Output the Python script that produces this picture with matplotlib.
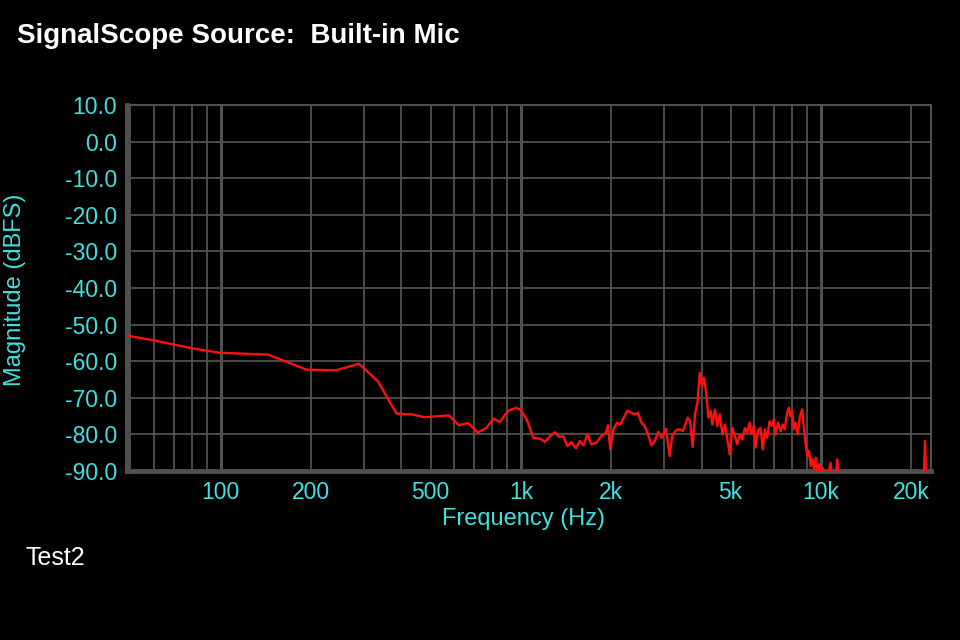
import matplotlib
matplotlib.use("Agg")
import matplotlib.pyplot as plt
from matplotlib.ticker import FixedLocator, NullFormatter

plt.rcParams['font.family'] = ['Liberation Sans', 'DejaVu Sans']
plt.rcParams['axes.unicode_minus'] = False

# spectrum (Hz, dBFS); values under -90 are hidden by the axis
freq = [48.7, 60.6, 70.3, 80.6, 99.2, 143.8, 193, 242, 289, 334, 385, 432, 478, 576,
        621, 668, 718, 768, 811, 851, 906, 962, 998, 1046, 1100, 1158, 1203, 1250,
        1298, 1341, 1383, 1431, 1475, 1526, 1570, 1617, 1669, 1714, 1782, 1852, 1918,
        1950, 1986, 2037, 2090, 2145, 2203, 2266, 2336, 2396, 2457, 2521, 2586, 2653,
        2724, 2796, 2868, 2944, 3042, 3133, 3198, 3296, 3378, 3467, 3597, 3663, 3737,
        3808, 3876, 3947, 4009, 4077, 4150, 4215, 4290, 4344, 4434, 4515, 4600, 4694,
        4790, 4876, 4966, 5066, 5170, 5262, 5370, 5466, 5577, 5677, 5781, 5869, 5975,
        6052, 6160, 6287, 6400, 6498, 6615, 6739, 6842, 6963, 7052, 7197, 7330, 7460,
        7576, 7710, 7812, 7914, 8017, 8120, 8227, 8375, 8507, 8661, 8776, 8891, 9007,
        9125, 9245, 9364, 9484, 9609, 9735, 9862, 9990, 10136, 10300, 10500, 10767,
        10950, 11150, 11335, 11550, 16000, 21900, 22220, 22500, 23300]
mag = [-53.0, -54.4, -55.5, -56.5, -57.7, -58.2, -62.3, -62.5, -60.7, -65.5, -74.3,
       -74.5, -75.3, -74.8, -77.5, -76.9, -79.5, -78.2, -75.7, -76.6, -73.6, -72.7,
       -73.3, -75.9, -80.9, -81.2, -82.0, -80.5, -79.4, -80.7, -80.5, -83.2, -82.1,
       -83.8, -81.8, -83.0, -79.8, -82.7, -82.3, -80.5, -79.6, -77.5, -84.1, -78.6,
       -76.8, -77.3, -75.4, -73.5, -74.1, -74.5, -74.1, -76.8, -77.7, -80.0, -83.0,
       -81.8, -79.3, -80.9, -78.5, -85.9, -80.1, -78.8, -78.6, -79.1, -75.4, -76.4,
       -83.4, -74.1, -71.4, -63.2, -66.8, -64.5, -69.1, -75.4, -73.6, -77.3, -73.2,
       -77.7, -74.5, -80.0, -77.3, -81.4, -85.4, -78.2, -80.5, -82.7, -80.0, -81.4,
       -78.2, -79.5, -76.8, -80.0, -77.7, -83.6, -79.1, -78.2, -84.1, -78.6, -80.9,
       -76.4, -77.7, -75.9, -80.0, -76.8, -79.1, -77.3, -78.6, -74.1, -72.7, -75.0,
       -73.6, -78.6, -76.8, -80.0, -75.0, -73.2, -78.6, -82.7, -85.9, -84.5, -88.6,
       -86.8, -89.5, -86.4, -90.5, -88.2, -92.0, -89.1, -93.0, -92.0, -87.8, -94.0,
       -93.0, -86.8, -96.0, -96.0, -96.0, -81.8, -96.0, -96.0]

xticks = [100, 200, 500, 1000, 2000, 5000, 10000, 20000]
xtick_labels = ['100', '200', '500', '1k', '2k', '5k', '10k', '20k']
yticks = [10, 0, -10, -20, -30, -40, -50, -60, -70, -80, -90]
decades = [100, 1000, 10000]
minor_grid = [50, 60, 70, 80, 90, 200, 300, 400, 500, 600, 700, 800, 900,
              2000, 3000, 4000, 5000, 6000, 7000, 8000, 9000, 20000]

cyan = '#3fe0e0'
grey = '#505050'

fig = plt.figure(figsize=(9.6, 6.4), dpi=100, facecolor='black')
ax = fig.add_axes([127/960, 1 - 471/640, (931 - 127)/960, (471 - 105)/640])
ax.set_facecolor('black')

ax.plot(freq, mag, color='#ff1010', lw=1.7, zorder=3)

ax.set_xscale('log')
ax.set_xlim(48.7, 23260)
ax.set_ylim(-90, 10)

# grid drawn by hand so decade lines can be heavier
for f in minor_grid:
    ax.axvline(f, color=grey, lw=1.3, zorder=1)
for f in decades:
    ax.axvline(f, color=grey, lw=2.2, zorder=1)
for y in yticks:
    ax.axhline(y, color=grey, lw=1.3, zorder=1)

ax.xaxis.set_major_locator(FixedLocator(xticks))
ax.xaxis.set_minor_locator(FixedLocator([]))
ax.xaxis.set_minor_formatter(NullFormatter())
ax.set_xticklabels(xtick_labels)
ax.set_yticks(yticks)
ax.set_yticklabels(['%.1f' % v for v in yticks])
ax.tick_params(axis='both', length=0, colors=cyan, labelsize=16.5)
ax.tick_params(axis='x', pad=7)
ax.tick_params(axis='y', pad=7)

for side in ['left', 'bottom']:
    ax.spines[side].set_color(grey)
    ax.spines[side].set_linewidth(3.5)
for side in ['top', 'right']:
    ax.spines[side].set_color(grey)
    ax.spines[side].set_linewidth(1.5)

fig.text(17/960, 1 - 36/640, 'SignalScope Source:  Built-in Mic', color='white',
         fontsize=20, fontweight='bold', ha='left', va='center')
fig.text(15/960, 1 - 290/640, 'Magnitude (dBFS)', color=cyan, fontsize=17,
         rotation=90, ha='center', va='center')
fig.text(524/960, 1 - 519/640, 'Frequency (Hz)', color=cyan, fontsize=17,
         ha='center', va='center')
fig.text(25/960, 1 - 558/640, 'Test2', color='white', fontsize=18,
         ha='left', va='center')

fig.savefig('out.png', dpi=100, facecolor='black')
